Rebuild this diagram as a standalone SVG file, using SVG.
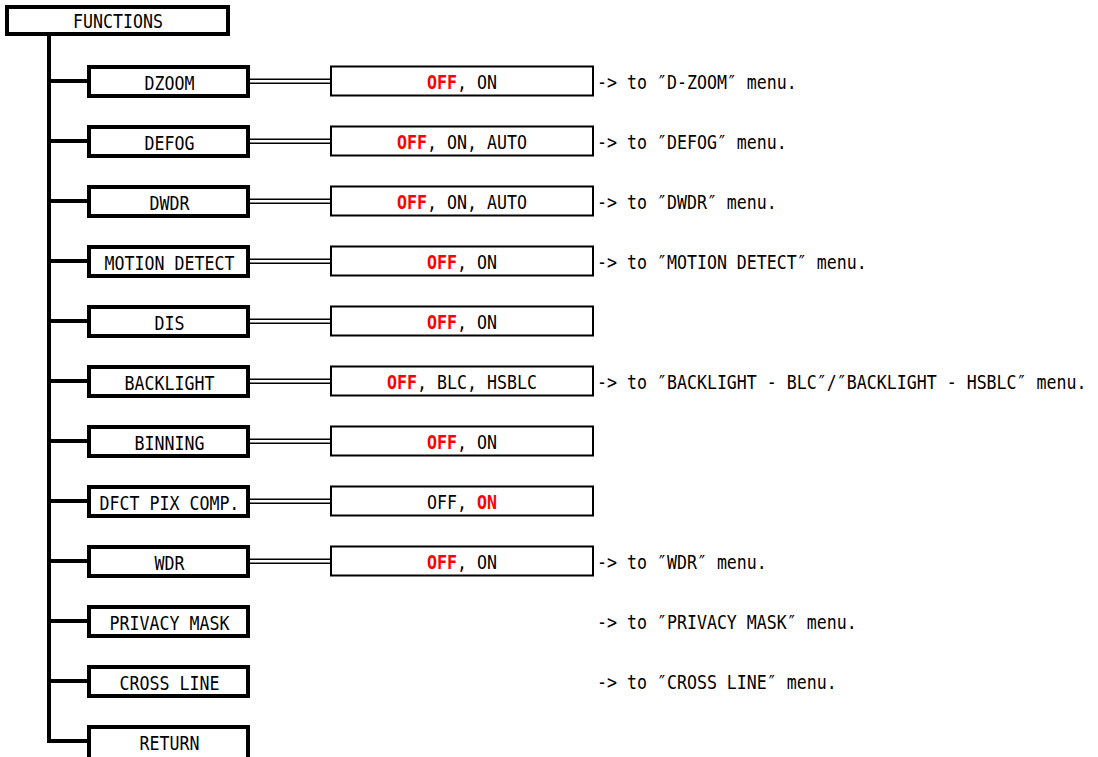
<svg xmlns="http://www.w3.org/2000/svg" width="1098" height="757" viewBox="0 0 1098 757">
<style>
text{font-family:"DejaVu Sans Mono","Liberation Mono",monospace;font-size:16.61px;fill:#000}
.r{fill:#ff0000;font-weight:bold}
.node{fill:#fff;stroke:#000;stroke-width:4}
.val{fill:#fff;stroke:#000;stroke-width:2}
.trunk{stroke:#000;stroke-width:4;fill:none}
.dbl1{stroke:#000;stroke-width:5.5}
.dbl2{stroke:#fff;stroke-width:2.5}
</style>
<rect width="1098" height="757" fill="#fff"/>
<g id="connectors">
<path class="trunk" d="M49 36V741M49 81H89M49 141H89M49 201H89M49 261H89M49 321H89M49 381H89M49 441H89M49 501H89M49 561H89M49 621H89M49 681H89M47 741H89"/>
<g>
<path class="dbl1" d="M250 81.25H331M250 141.25H331M250 201.25H331M250 261.25H331M250 321.25H331M250 381.25H331M250 441.25H331M250 501.25H331M250 561.25H331"/>
<path class="dbl2" d="M250 81.25H331M250 141.25H331M250 201.25H331M250 261.25H331M250 321.25H331M250 381.25H331M250 441.25H331M250 501.25H331M250 561.25H331"/>
</g>
</g>
<g id="n-functions"><rect class="node" x="7" y="7" width="221" height="27"/><text transform="translate(73 28) scale(1 1.2)">FUNCTIONS</text></g>

<g id="n-dzoom"><rect class="node" x="89" y="67" width="159" height="29"/><text transform="translate(144.5 90) scale(1 1.2)">DZOOM</text></g>
<g id="v-dzoom"><rect class="val" x="331" y="66.5" width="262" height="29"/><text class="r" transform="translate(427 88.5) scale(1 1.2)">OFF</text><text transform="translate(457 88.5) scale(1 1.2)">, ON</text></g>
<g id="a-dzoom"><text transform="translate(597 88.5) scale(1 1.2)">-&gt; to ″D-ZOOM″ menu.</text></g>

<g id="n-defog"><rect class="node" x="89" y="127" width="159" height="29"/><text transform="translate(144.5 150) scale(1 1.2)">DEFOG</text></g>
<g id="v-defog"><rect class="val" x="331" y="126.5" width="262" height="29"/><text class="r" transform="translate(397 148.5) scale(1 1.2)">OFF</text><text transform="translate(427 148.5) scale(1 1.2)">, ON, AUTO</text></g>
<g id="a-defog"><text transform="translate(597 148.5) scale(1 1.2)">-&gt; to ″DEFOG″ menu.</text></g>

<g id="n-dwdr"><rect class="node" x="89" y="187" width="159" height="29"/><text transform="translate(149.5 210) scale(1 1.2)">DWDR</text></g>
<g id="v-dwdr"><rect class="val" x="331" y="186.5" width="262" height="29"/><text class="r" transform="translate(397 208.5) scale(1 1.2)">OFF</text><text transform="translate(427 208.5) scale(1 1.2)">, ON, AUTO</text></g>
<g id="a-dwdr"><text transform="translate(597 208.5) scale(1 1.2)">-&gt; to ″DWDR″ menu.</text></g>

<g id="n-motion"><rect class="node" x="89" y="247" width="159" height="29"/><text transform="translate(104.5 270) scale(1 1.2)">MOTION DETECT</text></g>
<g id="v-motion"><rect class="val" x="331" y="246.5" width="262" height="29"/><text class="r" transform="translate(427 268.5) scale(1 1.2)">OFF</text><text transform="translate(457 268.5) scale(1 1.2)">, ON</text></g>
<g id="a-motion"><text transform="translate(597 268.5) scale(1 1.2)">-&gt; to ″MOTION DETECT″ menu.</text></g>

<g id="n-dis"><rect class="node" x="89" y="307" width="159" height="29"/><text transform="translate(154.5 330) scale(1 1.2)">DIS</text></g>
<g id="v-dis"><rect class="val" x="331" y="306.5" width="262" height="29"/><text class="r" transform="translate(427 328.5) scale(1 1.2)">OFF</text><text transform="translate(457 328.5) scale(1 1.2)">, ON</text></g>

<g id="n-backlight"><rect class="node" x="89" y="367" width="159" height="29"/><text transform="translate(124.5 390) scale(1 1.2)">BACKLIGHT</text></g>
<g id="v-backlight"><rect class="val" x="331" y="366.5" width="262" height="29"/><text class="r" transform="translate(387 388.5) scale(1 1.2)">OFF</text><text transform="translate(417 388.5) scale(1 1.2)">, BLC, HSBLC</text></g>
<g id="a-backlight"><text transform="translate(597 388.5) scale(1 1.2)">-&gt; to ″BACKLIGHT - BLC″/″BACKLIGHT - HSBLC″ menu.</text></g>

<g id="n-binning"><rect class="node" x="89" y="427" width="159" height="29"/><text transform="translate(134.5 450) scale(1 1.2)">BINNING</text></g>
<g id="v-binning"><rect class="val" x="331" y="426.5" width="262" height="29"/><text class="r" transform="translate(427 448.5) scale(1 1.2)">OFF</text><text transform="translate(457 448.5) scale(1 1.2)">, ON</text></g>

<g id="n-dfct"><rect class="node" x="89" y="487" width="159" height="29"/><text transform="translate(99.5 510) scale(1 1.2)">DFCT PIX COMP.</text></g>
<g id="v-dfct"><rect class="val" x="331" y="486.5" width="262" height="29"/><text transform="translate(427 508.5) scale(1 1.2)">OFF, </text><text class="r" transform="translate(477 508.5) scale(1 1.2)">ON</text></g>

<g id="n-wdr"><rect class="node" x="89" y="547" width="159" height="29"/><text transform="translate(154.5 570) scale(1 1.2)">WDR</text></g>
<g id="v-wdr"><rect class="val" x="331" y="546.5" width="262" height="29"/><text class="r" transform="translate(427 568.5) scale(1 1.2)">OFF</text><text transform="translate(457 568.5) scale(1 1.2)">, ON</text></g>
<g id="a-wdr"><text transform="translate(597 568.5) scale(1 1.2)">-&gt; to ″WDR″ menu.</text></g>

<g id="n-privacy"><rect class="node" x="89" y="607" width="159" height="29"/><text transform="translate(109.5 630) scale(1 1.2)">PRIVACY MASK</text></g>
<g id="a-privacy"><text transform="translate(597 628.5) scale(1 1.2)">-&gt; to ″PRIVACY MASK″ menu.</text></g>

<g id="n-cross"><rect class="node" x="89" y="667" width="159" height="29"/><text transform="translate(119.5 690) scale(1 1.2)">CROSS LINE</text></g>
<g id="a-cross"><text transform="translate(597 688.5) scale(1 1.2)">-&gt; to ″CROSS LINE″ menu.</text></g>

<g id="n-return"><rect class="node" x="89" y="727" width="159" height="34"/><text transform="translate(139.5 750) scale(1 1.2)">RETURN</text></g>
</svg>
